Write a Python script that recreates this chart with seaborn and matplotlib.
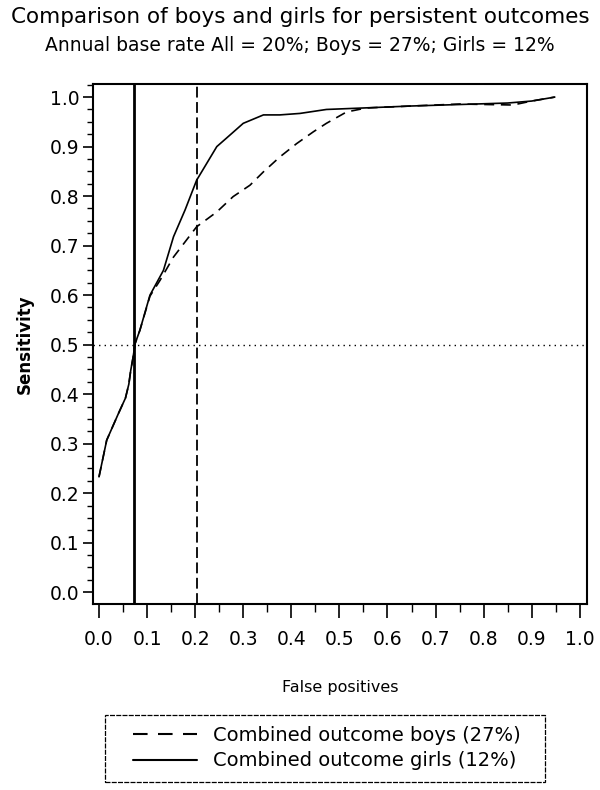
import matplotlib
matplotlib.use("Agg")
import matplotlib.pyplot as plt
from matplotlib.ticker import MultipleLocator
from matplotlib.lines import Line2D
from matplotlib.patches import Rectangle
import seaborn as sns

sns.set_style("ticks")
plt.rcParams['font.family'] = ['DejaVu Sans']
plt.rcParams['text.color'] = 'black'
plt.rcParams['axes.labelcolor'] = 'black'

title = "Comparison of boys and girls for persistent outcomes"
subtitle = "Annual base rate All = 20%; Boys = 27%; Girls = 12%"
label_boys = "Combined outcome boys (27%)"
label_girls = "Combined outcome girls (12%)"

girls_fp = [0.0, 0.016, 0.040, 0.055, 0.062, 0.066, 0.071, 0.075, 0.085, 0.106, 0.134, 0.155,
            0.179, 0.203, 0.224, 0.245, 0.265, 0.300, 0.342, 0.376, 0.418, 0.473,
            0.550, 0.650, 0.750, 0.850, 0.900, 0.948]
girls_sens = [0.233, 0.307, 0.360, 0.392, 0.420, 0.448, 0.475, 0.502, 0.529, 0.600, 0.650, 0.718,
              0.772, 0.832, 0.866, 0.900, 0.917, 0.947, 0.964, 0.964, 0.967, 0.975,
              0.978, 0.982, 0.985, 0.988, 0.992, 1.000]

boys_fp = [0.0, 0.016, 0.040, 0.055, 0.062, 0.066, 0.071, 0.075, 0.085, 0.106, 0.127, 0.155,
           0.203, 0.245, 0.279, 0.314, 0.342, 0.376, 0.411, 0.446, 0.473, 0.515,
           0.556, 0.650, 0.750, 0.861, 0.900, 0.948]
boys_sens = [0.233, 0.307, 0.360, 0.392, 0.420, 0.448, 0.475, 0.502, 0.529, 0.598, 0.630, 0.677,
             0.738, 0.768, 0.799, 0.822, 0.849, 0.879, 0.906, 0.930, 0.947, 0.970,
             0.978, 0.982, 0.986, 0.984, 0.992, 1.000]

girls_cut = 0.073
boys_cut = 0.203
ref_sens = 0.5

fig = plt.figure(figsize=(6, 7.9), dpi=100)
ax = fig.add_axes([0.155, 0.2354, 0.823, 0.658])

sns.lineplot(x=boys_fp, y=boys_sens, ax=ax, color="black", lw=1.2,
             sort=False, estimator=None, linestyle=(0, (6, 4)))
sns.lineplot(x=girls_fp, y=girls_sens, ax=ax, color="black", lw=1.2,
             sort=False, estimator=None)

ax.axvline(girls_cut, color="black", lw=2.0)
ax.axvline(boys_cut, color="black", lw=1.3, linestyle=(0, (6, 2.5)))
ax.axhline(ref_sens, color="black", lw=1.0, linestyle=(0, (1, 3)))

ax.set_xlim(-0.0125, 1.0146)
ax.set_ylim(-0.024, 1.026)
ax.xaxis.set_major_locator(MultipleLocator(0.1))
ax.xaxis.set_minor_locator(MultipleLocator(0.05))
ax.yaxis.set_major_locator(MultipleLocator(0.1))
ax.yaxis.set_minor_locator(MultipleLocator(0.025))
ax.xaxis.set_major_formatter(plt.FormatStrFormatter("%.1f"))
ax.yaxis.set_major_formatter(plt.FormatStrFormatter("%.1f"))
ax.tick_params(axis="x", which="major", length=10, width=1.2, labelsize=13.5,
               direction="out", color="black", labelcolor="black", pad=9)
ax.tick_params(axis="x", which="minor", length=6, width=1.0, direction="out", color="black")
ax.tick_params(axis="y", which="major", length=7, width=1.2, labelsize=13.5,
               direction="out", color="black", labelcolor="black", pad=2.5)
ax.tick_params(axis="y", which="minor", length=4, width=1.0, direction="out", color="black")
for s in ax.spines.values():
    s.set_color("black")
    s.set_linewidth(1.5)

ax.set_xlabel("False positives", fontsize=11.5, labelpad=22)
ax.set_ylabel("Sensitivity", fontsize=12, fontweight="bold", labelpad=12)

fig.text(0.5, 0.978, title, ha="center", va="center", fontsize=15.5)
fig.text(0.5, 0.943, subtitle, ha="center", va="center", fontsize=13.5)

# legend box
fig.patches.append(Rectangle((105 / 600, 8 / 790), 440 / 600, 67 / 790,
                             transform=fig.transFigure, fill=False,
                             edgecolor="black", lw=0.9, linestyle=(0, (4, 1))))
handles = [Line2D([], [], color="black", lw=1.5, linestyle=(0, (7, 5))),
           Line2D([], [], color="black", lw=1.5)]
leg = fig.legend(handles, [label_boys, label_girls], loc="center left",
                 bbox_to_anchor=(133 / 600, 0.0532), frameon=False,
                 fontsize=14, handlelength=3.3, labelspacing=0.35,
                 borderpad=0, handletextpad=0.8, borderaxespad=0)

fig.savefig("out.png", dpi=100)
